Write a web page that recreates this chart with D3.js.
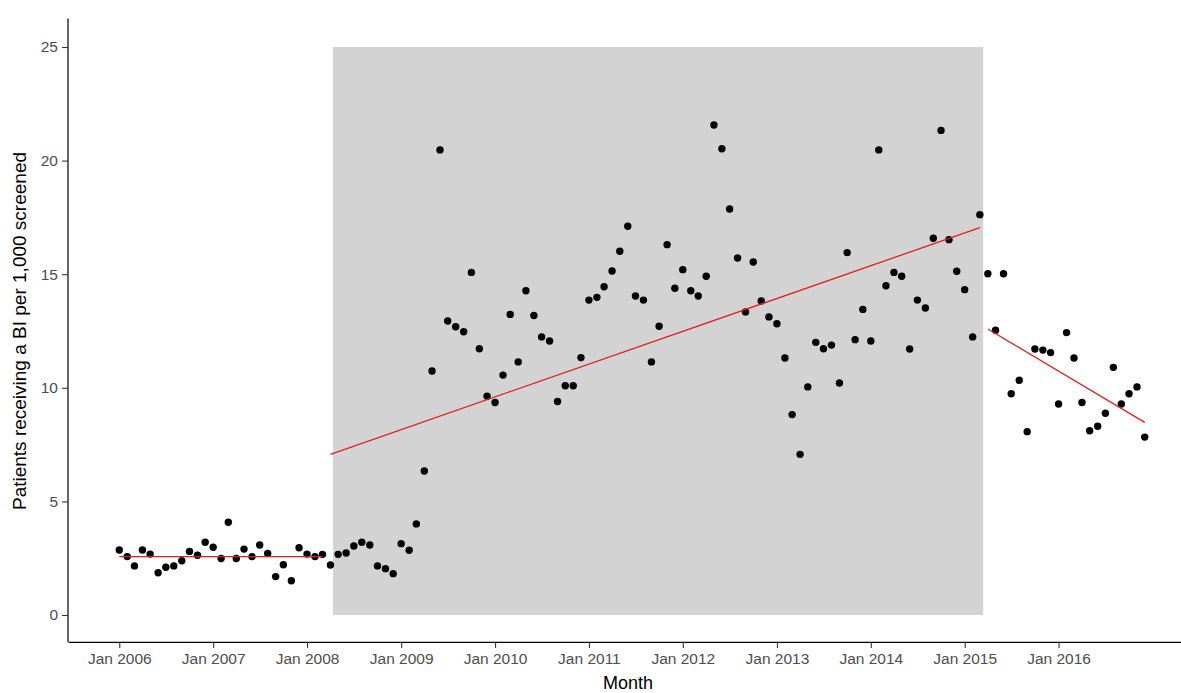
<!DOCTYPE html>
<html>
<head>
<meta charset="utf-8">
<script src="https://cdn.jsdelivr.net/npm/d3@7"></script>
<style>
  html, body { margin: 0; padding: 0; background: #ffffff; }
  svg { display: block; font-family: "Liberation Sans", Arial, sans-serif; }
</style>
</head>
<body>
<svg id="chart" width="1181" height="693"></svg>
<script>
// Monthly rate of patients receiving a brief intervention, Jan 2006 – Dec 2016
const firstMonth = new Date(Date.UTC(2006, 0, 1));
const lastMonth = new Date(Date.UTC(2016, 11, 1));

const rateValues = [
  // 2006
  2.86, 2.57, 2.16, 2.86, 2.68, 1.86, 2.10, 2.16, 2.39, 2.80, 2.63, 3.20,
  // 2007
  2.98, 2.49, 4.08, 2.49, 2.90, 2.57, 3.08, 2.71, 1.69, 2.21, 1.51, 2.96,
  // 2008
  2.68, 2.57, 2.67, 2.20, 2.67, 2.73, 3.04, 3.20, 3.08, 2.16, 2.04, 1.82,
  // 2009
  3.14, 2.85, 4.01, 6.34, 10.74, 20.47, 12.94, 12.69, 12.47, 15.08, 11.72, 9.63,
  // 2010
  9.35, 10.56, 13.23, 11.14, 14.27, 13.18, 12.24, 12.06, 9.40, 10.09, 10.09, 11.33,
  // 2011
  13.86, 13.98, 14.45, 15.14, 16.01, 17.11, 14.04, 13.86, 11.14, 12.71, 16.30, 14.38,
  // 2012
  15.20, 14.27, 14.04, 14.91, 21.57, 20.52, 17.87, 15.71, 13.34, 15.54, 13.82, 13.12,
  // 2013
  12.82, 11.31, 8.82, 7.07, 10.04, 12.00, 11.72, 11.88, 10.21, 15.95, 12.12, 13.45,
  // 2014
  12.06, 20.47, 14.49, 15.08, 14.91, 11.71, 13.86, 13.51, 16.58, 21.33, 16.52, 15.13,
  // 2015
  14.32, 12.24, 17.62, 15.02, 12.53, 15.02, 9.74, 10.33, 8.07, 11.71, 11.66, 11.55,
  // 2016
  9.29, 12.43, 11.31, 9.35, 8.11, 8.31, 8.88, 10.90, 9.29, 9.74, 10.04, 7.83
];

// Shaded intervention period
const periodStart = new Date(Date.UTC(2008, 3, 11));
const periodEnd = new Date(Date.UTC(2015, 2, 14));

// Segmented regression fits: one segment per phase
const trendFrom = [new Date(Date.UTC(2006, 0, 1)), new Date(Date.UTC(2008, 3, 1)), new Date(Date.UTC(2015, 3, 1))];
const trendTo = [new Date(Date.UTC(2008, 2, 1)), new Date(Date.UTC(2015, 2, 1)), new Date(Date.UTC(2016, 11, 1))];
const trendStartValue = [2.57, 7.07, 12.59];
const trendEndValue = [2.57, 17.05, 8.48];

const yTicks = [0, 5, 10, 15, 20, 25];
const xTickYears = [2006, 2007, 2008, 2009, 2010, 2011, 2012, 2013, 2014, 2015, 2016];

const months = d3.utcMonth.range(firstMonth, d3.utcMonth.offset(lastMonth, 1));
const points = months.map((d, i) => ({ date: d, value: rateValues[i] }));

const svg = d3.select("#chart");
const panel = { left: 68, right: 1196, top: 18.6, bottom: 643.4 };

// ggplot-style 5% expansion on both axes
const span = lastMonth - firstMonth;
const x = d3.scaleUtc()
  .domain([new Date(+firstMonth - 0.05 * span), new Date(+lastMonth + 0.05 * span)])
  .range([panel.left, panel.right]);
const y = d3.scaleLinear()
  .domain([-1.25, 26.25])
  .range([panel.bottom, panel.top]);

// shaded period
svg.append("rect")
  .attr("x", x(periodStart))
  .attr("y", y(25))
  .attr("width", x(periodEnd) - x(periodStart))
  .attr("height", y(0) - y(25))
  .attr("fill", "#d3d3d3");

// points
svg.append("g")
  .selectAll("circle")
  .data(points)
  .join("circle")
  .attr("cx", d => x(d.date))
  .attr("cy", d => y(d.value))
  .attr("r", 3.7)
  .attr("fill", "#000");

// trend segments
svg.append("g")
  .selectAll("line")
  .data(trendFrom.map((d, i) => ({ from: d, to: trendTo[i], v0: trendStartValue[i], v1: trendEndValue[i] })))
  .join("line")
  .attr("x1", d => x(d.from))
  .attr("x2", d => x(d.to))
  .attr("y1", d => y(d.v0))
  .attr("y2", d => y(d.v1))
  .attr("stroke", "#e01f1d")
  .attr("stroke-width", 1.3);

// axes
const xAxis = d3.axisBottom(x)
  .tickValues(xTickYears.map(yr => new Date(Date.UTC(yr, 0, 1))))
  .tickFormat(d3.utcFormat("%b %Y"))
  .tickSize(6)
  .tickPadding(5)
  .tickSizeOuter(0);
const yAxis = d3.axisLeft(y)
  .tickValues(yTicks)
  .tickSize(6)
  .tickPadding(4)
  .tickSizeOuter(0);

const gx = svg.append("g")
  .attr("transform", `translate(0,${panel.bottom - 1.5})`)
  .call(xAxis);
const gy = svg.append("g")
  .attr("transform", `translate(${panel.left},0)`)
  .call(yAxis);

[gx, gy].forEach(g => {
  g.select(".domain").attr("stroke", "#000").attr("stroke-width", 1.2);
  g.selectAll(".tick line").attr("stroke", "#333").attr("stroke-width", 1.1);
  g.selectAll(".tick text")
    .attr("fill", "#4d4d4d")
    .style("font-size", "15.5px")
    .style("font-family", "'Liberation Sans', Arial, sans-serif");
});
gy.select(".domain").attr("d", `M0,${panel.top}V${panel.bottom - 1.5}`);

// axis titles
svg.append("text")
  .attr("x", (panel.left + panel.right) / 2 - 4)
  .attr("y", 689)
  .attr("text-anchor", "middle")
  .style("font-size", "18px")
  .attr("fill", "#000")
  .text("Month");

svg.append("text")
  .attr("transform", `translate(26,${(panel.top + panel.bottom) / 2}) rotate(-90)`)
  .attr("text-anchor", "middle")
  .style("font-size", "19px")
  .attr("fill", "#000")
  .text("Patients receiving a BI per 1,000 screened");
</script>
</body>
</html>
